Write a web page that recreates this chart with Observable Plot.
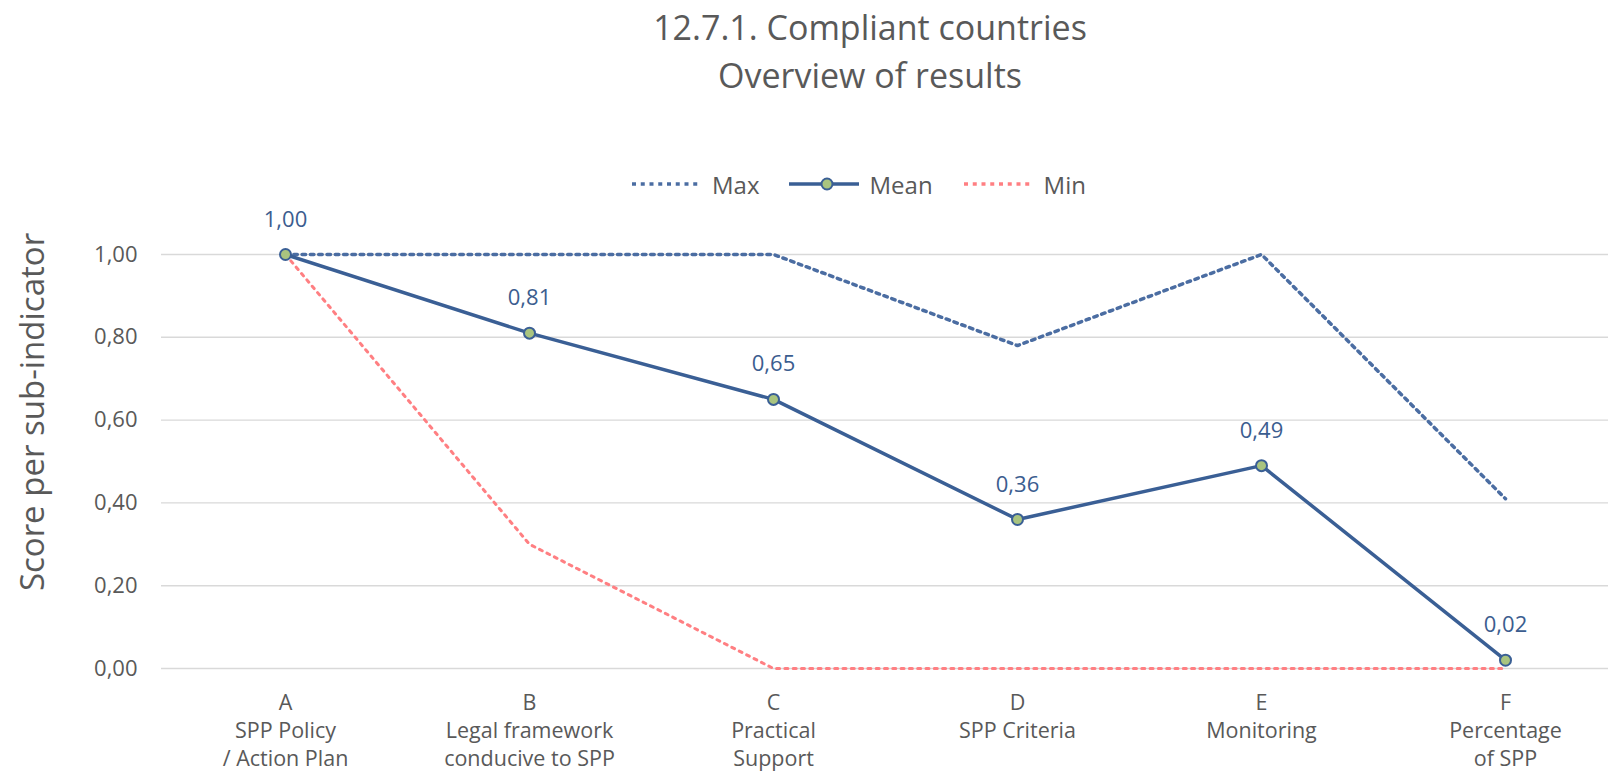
<!DOCTYPE html>
<html>
<head>
<meta charset="utf-8">
<script src="https://cdn.jsdelivr.net/npm/d3@7"></script>
<script src="https://cdn.jsdelivr.net/npm/@observablehq/plot@0.6"></script>
<style>
  html, body { margin: 0; padding: 0; overflow: hidden; background: #fff; }
  #wrap { position: relative; width: 1608px; height: 774px; font-family: "Open Sans", sans-serif; color: #595959; }
  #chart { position: absolute; left: 0; top: 0; }
  #title { position: absolute; left: 470px; width: 800px; top: 3px; text-align: center; font-size: 34px; line-height: 48px; color: #595959; }
  #ytitle { position: absolute; left: 31px; top: 412px; transform: translate(-50%, -50%) rotate(-90deg); font-size: 33px; white-space: nowrap; color: #595959; }
  #legend { position: absolute; left: 632px; top: 166px; height: 36px; display: flex; align-items: center; font-size: 24px; color: #595959; }
  #legend .item { display: flex; align-items: center; }
  #legend svg { display: block; }
</style>
</head>
<body>
<div id="wrap">
  <div id="chart"></div>
  <div id="title"></div>
  <div id="ytitle"></div>
  <div id="legend"></div>
</div>
<script>
const titleLines = ["12.7.1. Compliant countries", "Overview of results"];
const yTitle = "Score per sub-indicator";
const categories = ["A", "B", "C", "D", "E", "F"];
const categoryLabels = [
  "A\nSPP Policy\n/ Action Plan",
  "B\nLegal framework\nconducive to SPP",
  "C\nPractical\nSupport",
  "D\nSPP Criteria",
  "E\nMonitoring",
  "F\nPercentage\nof SPP"
];
const maxValues = [1.00, 1.00, 1.00, 0.78, 1.00, 0.41];
const meanValues = [1.00, 0.81, 0.65, 0.36, 0.49, 0.02];
const minValues = [1.00, 0.30, 0.00, 0.00, 0.00, 0.00];
const yTicks = [0, 0.2, 0.4, 0.6, 0.8, 1.0];
const seriesNames = ["Max", "Mean", "Min"];

const colors = { Max: "#4b6da2", Mean: "#3a5f95", Min: "#ff7f82", marker: "#a9c47f", text: "#595959", label: "#3b5d8f", grid: "#d9d9d9" };
const fmt = v => v.toFixed(2).replace(".", ",");
const labelOf = new Map(categories.map((c, i) => [c, categoryLabels[i]]));

const maxData = categories.map((c, i) => ({ cat: c, value: maxValues[i] }));
const meanData = categories.map((c, i) => ({ cat: c, value: meanValues[i] }));
const minData = categories.map((c, i) => ({ cat: c, value: minValues[i] }));

const plot = Plot.plot({
  width: 1608,
  height: 774,
  marginTop: 254,
  marginBottom: 106,
  marginLeft: 161,
  marginRight: 0,
  style: { fontFamily: "'Open Sans', sans-serif", color: colors.text, background: "transparent" },
  x: { type: "point", domain: categories, range: [283, 1506], padding: 0 },
  y: { domain: [0, 1] },
  marks: [
    Plot.gridY(yTicks, { stroke: colors.grid, strokeOpacity: 1, strokeWidth: 1.4 }),
    Plot.axisY(yTicks, { tickSize: 0, tickPadding: 24, tickFormat: fmt, fontSize: 22, fill: colors.text, label: null }),
    Plot.axisX({ tickSize: 0, tickPadding: 22, tickFormat: d => labelOf.get(d), fontSize: 21.5, lineHeight: 1.3, fill: colors.text, label: null }),
    Plot.line(minData, { x: "cat", y: "value", stroke: colors.Min, strokeWidth: 3, strokeDasharray: "3,5.3" }),
    Plot.line(maxData, { x: "cat", y: "value", stroke: colors.Max, strokeWidth: 3.5, strokeDasharray: "3.5,4.8" }),
    Plot.line(meanData, { x: "cat", y: "value", stroke: colors.Mean, strokeWidth: 3.5 }),
    Plot.dot(meanData, { x: "cat", y: "value", r: 5.5, fill: colors.marker, stroke: colors.Mean, strokeWidth: 2 }),
    Plot.text(meanData, { x: "cat", y: "value", text: d => fmt(d.value), dy: -35, fontSize: 22, fill: colors.label })
  ]
});
document.getElementById("chart").appendChild(plot);

document.getElementById("title").innerHTML = titleLines.join("<br>");
document.getElementById("ytitle").textContent = yTitle;

const legend = document.getElementById("legend");
const swatch = name => {
  const w = 70, h = 14;
  let s = `<svg width="${w}" height="${h}">`;
  if (name === "Max") s += `<line x1="0" x2="${w}" y1="7" y2="7" stroke="${colors.Max}" stroke-width="3.5" stroke-dasharray="4,4.75"/>`;
  if (name === "Min") s += `<line x1="0" x2="${w}" y1="7" y2="7" stroke="${colors.Min}" stroke-width="3.5" stroke-dasharray="4,4.75"/>`;
  if (name === "Mean") s += `<line x1="0" x2="${w}" y1="7" y2="7" stroke="${colors.Mean}" stroke-width="3.5"/><circle cx="${w/2 + 3}" cy="7" r="5.5" fill="${colors.marker}" stroke="${colors.Mean}" stroke-width="2"/>`;
  return s + `</svg>`;
};
const gaps = [30, 31, 0];
legend.innerHTML = seriesNames.map((n, i) =>
  `<div class="item" style="margin-right:${gaps[i]}px">${swatch(n)}<span style="margin-left:10px">${n}</span></div>`
).join("");
</script>
</body>
</html>
